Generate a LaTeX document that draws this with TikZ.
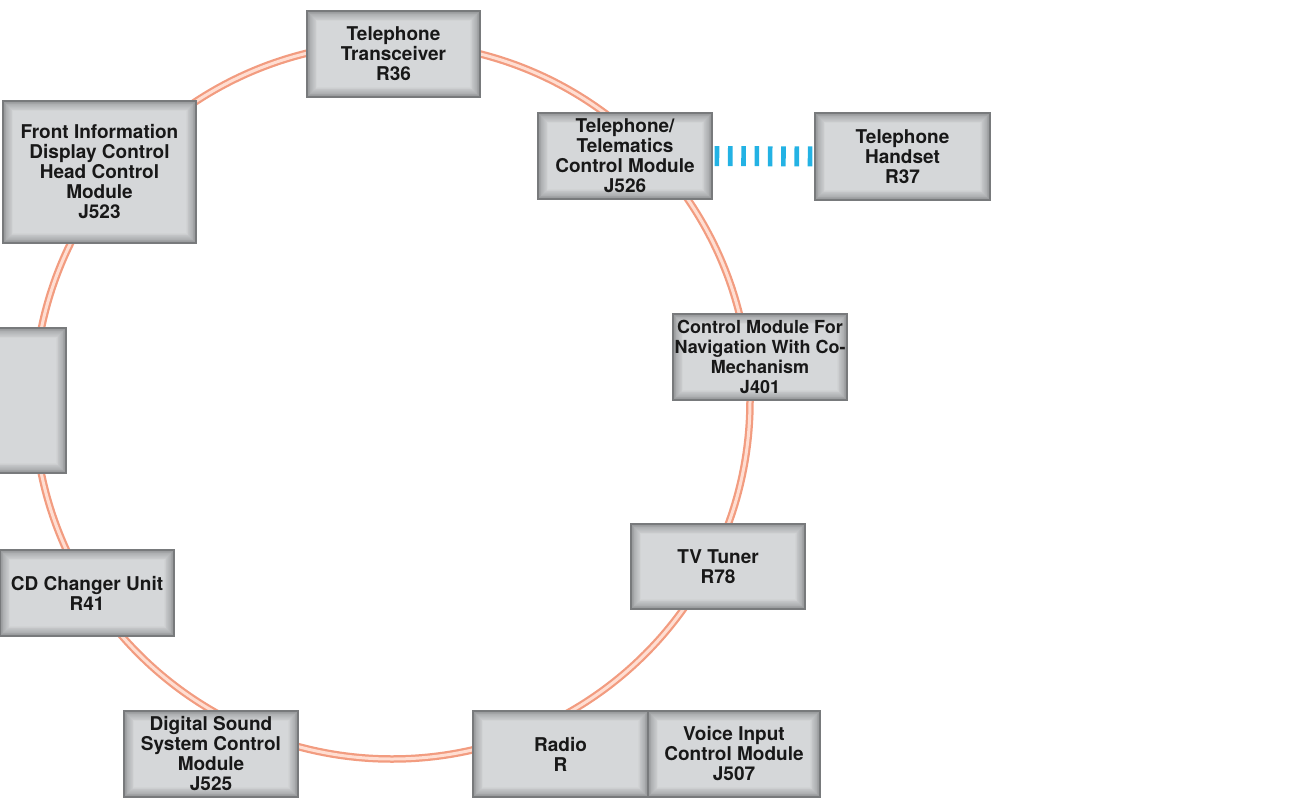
\documentclass[tikz,border=0pt]{standalone}
\usepackage{fontspec}
\setmainfont{TeX Gyre Heros}
\definecolor{boxface}{RGB}{213,215,217}
\definecolor{boxedge}{RGB}{146,148,150}
\definecolor{boxline}{RGB}{120,122,124}
\definecolor{ink}{RGB}{24,24,24}
\definecolor{ringedge}{RGB}{242,156,128}
\definecolor{ringcore}{RGB}{255,222,210}
\definecolor{linkblue}{RGB}{35,178,228}
\tikzset{
  module/.style={
    draw=boxline, line width=1.3pt, fill=boxface,
    align=center, inner sep=0pt, text=ink,
    font=\bfseries\fontsize{19}{20}\selectfont,
    minimum width=174pt, minimum height=86pt,
    path picture={
      \foreach \i in {0,...,12}{
        \pgfmathsetmacro\k{0.85*\i}
        \pgfmathsetmacro\p{100*(\i/12)^0.8}
        \fill[boxface!\p!boxedge]
          ([xshift=\k pt,yshift=\k pt]path picture bounding box.south west)
          rectangle
          ([xshift=-\k pt,yshift=-\k pt]path picture bounding box.north east);
      }
    }
  },
  ring/.style={draw=ringedge, line width=7.5pt,
    postaction={draw=ringcore, line width=3pt}},
  wireless/.style={draw=linkblue, line width=20pt,
    dash pattern=on 4.6pt off 8.7pt}
}
\begin{document}
\begin{tikzpicture}[x=1pt,y=-1pt]
  \useasboundingbox (0,0) rectangle (1298,803);
  \clip (0,0) rectangle (1298,803);

  % ring bus
  \coordinate (hub) at (392,401);
  \draw[ring] (hub) circle[radius=358pt];

  % modules on the ring
  \node[module, minimum width=173pt] (r36) at (393.5,54)
    {Telephone\\Transceiver\\R36};
  \node[module] (j526) at (625,156)
    {Telephone/\\Telematics\\Control Module\\J526};
  \node[module, minimum width=175pt, minimum height=87pt] (r37) at (902.5,156.5)
    {Telephone\\Handset\\R37};
  \node[module, minimum width=193pt, minimum height=142pt] (j523) at (99.5,172)
    {Front Information\\Display Control\\Head Control\\Module\\J523};
  \node[module, minimum height=145pt] (blank) at (-21,400.5) {};
  \node[module, font=\bfseries\fontsize{18}{20}\selectfont] (j401) at (760,357)
    {Control Module For\\Navigation With Co-\\Mechanism\\J401};
  \node[module, minimum height=85pt] (r78) at (718,566.5)
    {TV Tuner\\R78};
  \node[module] (r41) at (87,593)
    {CD Changer Unit\\R41};
  \node[module] (j525) at (211,754)
    {Digital Sound\\System Control\\Module\\J525};
  \node[module, minimum width=175pt] (radio) at (560.5,754)
    {Radio\\R};
  \node[module, minimum width=172pt] (j507) at (734,754)
    {Voice Input\\Control Module\\J507};

  % wireless link to the handset
  \draw[wireless] ([xshift=2pt]j526.east) -- (r37.west);
\end{tikzpicture}
\end{document}
